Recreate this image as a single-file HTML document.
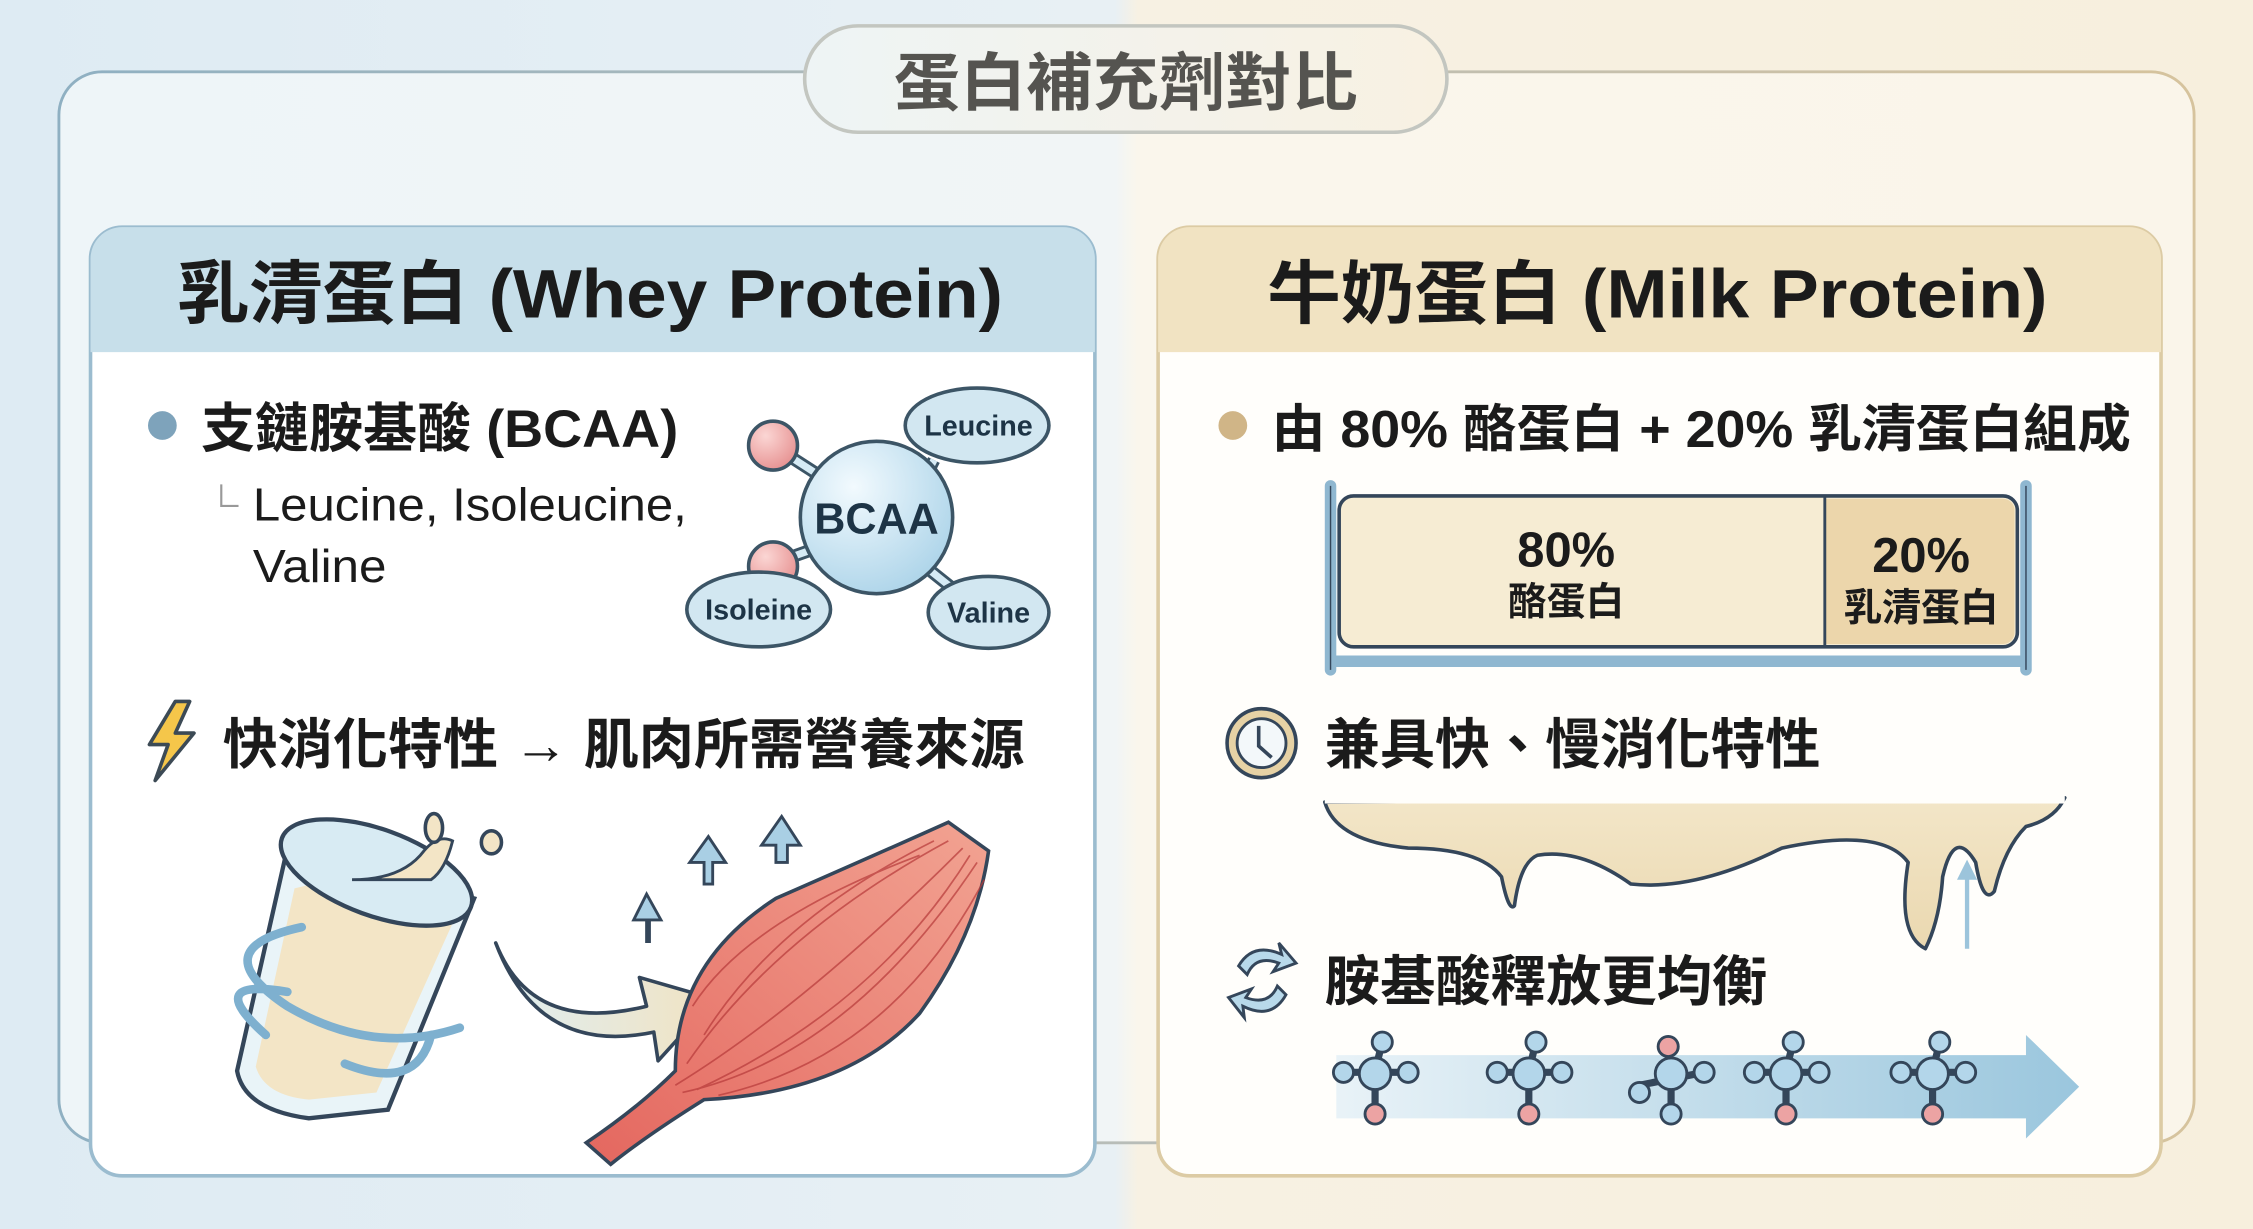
<!DOCTYPE html>
<html><head><meta charset="utf-8"><style>
html,body{margin:0;padding:0;width:2253px;height:1229px;overflow:hidden;background:#eef3f5}
svg{display:block}
text{font-family:"Liberation Sans","Noto Sans CJK TC",sans-serif}
</style></head><body>
<svg width="2253" height="1229" viewBox="0 0 1568 855" preserveAspectRatio="none" xmlns="http://www.w3.org/2000/svg">
<defs>
<linearGradient id="bg" x1="0" x2="1" y1="0" y2="0">
<stop offset="0" stop-color="#deebf3"/><stop offset="0.495" stop-color="#e8f0f4"/><stop offset="0.505" stop-color="#f7f1e3"/><stop offset="1" stop-color="#f7efdd"/></linearGradient>
<linearGradient id="frame" x1="0" x2="1"><stop offset="0" stop-color="#eef5f8"/><stop offset="0.495" stop-color="#f1f5f6"/><stop offset="0.505" stop-color="#faf6ec"/><stop offset="1" stop-color="#faf5ea"/></linearGradient>
<linearGradient id="framestroke" x1="0" x2="1"><stop offset="0" stop-color="#8fb0c2"/><stop offset="0.5" stop-color="#b8bdb8"/><stop offset="1" stop-color="#d6c39d"/></linearGradient>
<linearGradient id="pill" x1="0" x2="1"><stop offset="0" stop-color="#eef4f5"/><stop offset="1" stop-color="#f8f1e2"/></linearGradient>
<linearGradient id="arr" x1="0" x2="1"><stop offset="0" stop-color="#e6f1f7"/><stop offset="1" stop-color="#8fc0da"/></linearGradient>
<linearGradient id="milk" x1="0" x2="0" y1="0" y2="1"><stop offset="0" stop-color="#f3e6c8"/><stop offset="1" stop-color="#ead8b0"/></linearGradient>
<radialGradient id="ball" cx="0.35" cy="0.3" r="0.8"><stop offset="0" stop-color="#f2fafe"/><stop offset="1" stop-color="#a9d2e8"/></radialGradient>
<radialGradient id="pink" cx="0.35" cy="0.3" r="0.8"><stop offset="0" stop-color="#fbd6d4"/><stop offset="1" stop-color="#e58c8c"/></radialGradient>
<linearGradient id="bigarr" x1="0" x2="1"><stop offset="0" stop-color="#dfeef2"/><stop offset="1" stop-color="#f1e3c2"/></linearGradient>
<linearGradient id="muscle" x1="0" x2="1" y1="1" y2="0"><stop offset="0" stop-color="#e4675f"/><stop offset="1" stop-color="#f2a392"/></linearGradient>
</defs>
<rect width="1568" height="855" fill="url(#bg)"/>
<rect x="41" y="50" width="1486" height="745" rx="30" fill="url(#frame)" stroke="url(#framestroke)" stroke-width="2"/>
<!-- title pill -->
<rect x="560" y="18" width="447" height="74" rx="37" fill="url(#pill)" stroke="#c3c6c0" stroke-width="2.5"/>
<text x="622" y="73" font-size="44" font-weight="bold" fill="#555450" textLength="323" lengthAdjust="spacingAndGlyphs">蛋白補充劑對比</text>

<!-- left card -->
<rect x="63" y="158" width="699" height="660" rx="22" fill="#ffffff" stroke="#9bbccf" stroke-width="2.5"/>
<path d="M63 245 V180 a22 22 0 0 1 22 -22 H740 a22 22 0 0 1 22 22 V245 Z" fill="#c7dfea"/>
<text x="123" y="221" font-size="48" font-weight="bold" fill="#1b1b1b" textLength="575" lengthAdjust="spacingAndGlyphs">乳清蛋白 (Whey Protein)</text>
<circle cx="113" cy="296" r="10" fill="#7ea3bb"/>
<text x="140" y="311" font-size="37" font-weight="bold" fill="#1b1b1b" textLength="332" lengthAdjust="spacingAndGlyphs">支鏈胺基酸 (BCAA)</text>
<path d="M154 337 V352 H166" fill="none" stroke="#999" stroke-width="1.5"/>
<text x="176" y="362" font-size="32" fill="#1b1b1b" textLength="302" lengthAdjust="spacingAndGlyphs">Leucine, Isoleucine,</text>
<text x="176" y="405" font-size="32" fill="#1b1b1b" textLength="93" lengthAdjust="spacingAndGlyphs">Valine</text>
<!-- BCAA molecule -->
<g stroke="#3c5566" stroke-width="2.5">
<line x1="538" y1="310" x2="600" y2="350" stroke-width="9" stroke="#3c5566"/><line x1="538" y1="310" x2="600" y2="350" stroke-width="5" stroke="#d6ebf5"/>
<line x1="538" y1="392" x2="600" y2="370" stroke-width="9"/><line x1="538" y1="392" x2="600" y2="370" stroke-width="5" stroke="#d6ebf5"/>
<line x1="650" y1="320" x2="640" y2="340" stroke-width="9"/><line x1="650" y1="320" x2="640" y2="340" stroke-width="5" stroke="#d6ebf5"/>
<line x1="645" y1="395" x2="670" y2="415" stroke-width="9"/><line x1="645" y1="395" x2="670" y2="415" stroke-width="5" stroke="#d6ebf5"/>
<circle cx="538" cy="310" r="17" fill="url(#pink)"/>
<circle cx="538" cy="394" r="17" fill="url(#pink)"/>
<circle cx="610" cy="360" r="53" fill="url(#ball)"/>
<ellipse cx="680" cy="296" rx="50" ry="26" fill="#d2e7f1"/>
<ellipse cx="528" cy="424" rx="50" ry="26" fill="#d2e7f1"/>
<ellipse cx="688" cy="426" rx="42" ry="25" fill="#d2e7f1"/>
</g>
<text x="610" y="371" font-size="30" font-weight="bold" fill="#1d3446" text-anchor="middle">BCAA</text>
<text x="681" y="303" font-size="20" font-weight="bold" fill="#1d3446" text-anchor="middle">Leucine</text>
<text x="528" y="431" font-size="20" font-weight="bold" fill="#1d3446" text-anchor="middle">Isoleine</text>
<text x="688" y="433" font-size="20" font-weight="bold" fill="#1d3446" text-anchor="middle">Valine</text>
<!-- lightning -->
<path d="M122 488 L104 518 H117 L108 543 L135 510 H122 L132 488 Z" fill="#f5c64a" stroke="#3c4a55" stroke-width="2.5" stroke-linejoin="round"/>
<text x="155" y="531" font-size="38" font-weight="bold" fill="#1b1b1b" textLength="558" lengthAdjust="spacingAndGlyphs">快消化特性 → 肌肉所需營養來源</text>
<!-- glass -->
<path d="M200 590 L165 745 Q170 772 215 778 L270 772 L330 625 Z" fill="#e9f4f8" stroke="#34465a" stroke-width="3"/>
<path d="M205 618 L178 742 Q184 762 215 765 L262 760 L316 640 Q280 628 230 612 Z" fill="#f3e5c6"/>
<ellipse cx="262" cy="607" rx="70" ry="30" transform="rotate(20 262 607)" fill="#d8ebf3" stroke="#34465a" stroke-width="3"/>
<path d="M245 612 Q280 612 295 592 Q305 580 315 585 Q310 605 300 612 Z" fill="#f3e5c6" stroke="#34465a" stroke-width="2"/>
<ellipse cx="302" cy="576" rx="6" ry="10" fill="#f3e5c6" stroke="#34465a" stroke-width="2.5"/>
<ellipse cx="342" cy="586" rx="7" ry="8" fill="#f3e5c6" stroke="#34465a" stroke-width="2.5"/>
<path d="M210 645 Q140 660 200 700 Q260 735 320 715 M185 720 Q140 680 200 690 M240 740 Q290 760 300 720" fill="none" stroke="#7eb0cf" stroke-width="6" stroke-linecap="round"/>
<!-- curved arrow -->
<path d="M345 656 Q370 720 450 700 L445 680 L497 695 L458 738 L455 718 Q375 735 345 656 Z" fill="url(#bigarr)" stroke="#34465a" stroke-width="2.5" stroke-linejoin="round"/>
<!-- muscle -->
<path d="M408 795 Q445 770 470 745 Q470 670 540 625 Q620 590 660 572 L688 592 Q680 650 640 705 Q590 760 490 765 Q450 790 425 810 Z" fill="url(#muscle)" stroke="#34465a" stroke-width="2.5"/>
<g stroke="#b73a3a" stroke-width="1.2" fill="none" opacity="0.7">
<path d="M470 755 Q560 700 670 590"/><path d="M478 740 Q540 650 660 585"/><path d="M490 720 Q540 640 650 585"/><path d="M475 760 Q590 735 680 600"/><path d="M500 762 Q620 735 685 612"/><path d="M482 700 Q520 640 640 595"/><path d="M485 758 Q610 700 675 595"/>
</g>
<!-- up arrows -->
<g fill="#a9cfe4" stroke="#34465a" stroke-width="2">
<path d="M450 655 V640 H441 L450 622 L460 640 H452 V655 Z"/>
<path d="M490 615 V600 H480 L493 582 L505 600 H496 V615 Z"/>
<path d="M540 600 V588 H530 L544 568 L557 588 H548 V600 Z"/>
</g>

<!-- right card -->
<rect x="806" y="158" width="698" height="660" rx="22" fill="#fffefb" stroke="#dccba4" stroke-width="2.5"/>
<path d="M806 245 V180 a22 22 0 0 1 22 -22 H1482 a22 22 0 0 1 22 22 V245 Z" fill="#f1e3c2"/>
<text x="882" y="221" font-size="48" font-weight="bold" fill="#1b1b1b" textLength="543" lengthAdjust="spacingAndGlyphs">牛奶蛋白 (Milk Protein)</text>
<circle cx="858" cy="296" r="10" fill="#d0b587"/>
<text x="885" y="311" font-size="36" font-weight="bold" fill="#1b1b1b" textLength="598" lengthAdjust="spacingAndGlyphs">由 80% 酪蛋白 + 20% 乳清蛋白組成</text>
<path d="M926 338 V466 M1410 338 V466 M926 460 H1410" fill="none" stroke="#8fb7d0" stroke-width="8" stroke-linecap="round"/>
<path d="M926 338 V466 M1410 338 V466" fill="none" stroke="#34465a" stroke-width="1"/>
<rect x="932" y="345" width="472" height="105" rx="10" fill="#f6ecd3" stroke="#34465a" stroke-width="2.5"/>
<path d="M1270 347 H1394 a8 8 0 0 1 8 8 V440 a8 8 0 0 1 -8 8 H1270 Z" fill="#ecd6ab"/>
<line x1="1270" y1="346" x2="1270" y2="449" stroke="#34465a" stroke-width="2"/>
<text x="1090" y="394" font-size="34" font-weight="bold" fill="#1b1b1b" text-anchor="middle">80%</text>
<text x="1090" y="428" font-size="27" font-weight="bold" fill="#1b1b1b" text-anchor="middle">酪蛋白</text>
<text x="1337" y="398" font-size="34" font-weight="bold" fill="#1b1b1b" text-anchor="middle">20%</text>
<text x="1337" y="432" font-size="27" font-weight="bold" fill="#1b1b1b" text-anchor="middle">乳清蛋白</text>
<!-- clock -->
<circle cx="878" cy="517" r="24" fill="#e6d2a5" stroke="#34465a" stroke-width="2.5"/>
<circle cx="878" cy="517" r="17" fill="#f3f8fa" stroke="#34465a" stroke-width="2"/>
<path d="M876 505 V519 L885 527" fill="none" stroke="#34465a" stroke-width="2.5"/>
<text x="922" y="531" font-size="38" font-weight="bold" fill="#1b1b1b" textLength="345" lengthAdjust="spacingAndGlyphs">兼具快、慢消化特性</text>
<!-- drip -->
<path d="M922 558 Q930 585 980 590 Q1030 590 1045 610 Q1050 635 1054 630 Q1058 600 1070 595 Q1100 590 1135 615 Q1180 620 1240 590 Q1310 575 1328 600 Q1320 650 1340 660 Q1350 640 1352 610 Q1360 575 1375 600 Q1380 630 1388 620 Q1395 590 1410 575 Q1430 570 1437 555 Z" fill="url(#milk)" stroke="#34465a" stroke-width="2.5" stroke-linejoin="round"/>
<rect x="922" y="553" width="515" height="6" fill="#fffefb"/>
<line x1="1369" y1="660" x2="1369" y2="610" stroke="#9cc4db" stroke-width="3"/>
<path d="M1362 612 L1369 598 L1376 612 Z" fill="#9cc4db"/>
<!-- refresh -->
<path d="M862 672 Q872 655 892 664 L890 656 L902 670 L886 676 L890 670 Q874 664 868 678 Z" fill="#b8d9ea" stroke="#34465a" stroke-width="2"/>
<path d="M895 692 Q885 710 865 700 L866 708 L855 694 L871 688 L867 694 Q883 700 889 686 Z" fill="#b8d9ea" stroke="#34465a" stroke-width="2"/>
<text x="922" y="696" font-size="38" font-weight="bold" fill="#1b1b1b" textLength="308" lengthAdjust="spacingAndGlyphs">胺基酸釋放更均衡</text>
<!-- amino arrow -->
<path d="M930 734 H1410 V720 L1447 756 L1410 792 V778 H930 Z" fill="url(#arr)" opacity="0.9"/>
<g stroke="#34465a" stroke-width="2">
<g id="m1">
<line x1="957" y1="745" x2="957" y2="780" stroke-width="5"/><line x1="935" y1="746" x2="980" y2="746" stroke-width="5"/><line x1="957" y1="745" x2="962" y2="725" stroke-width="5"/>
<circle cx="962" cy="725" r="7" fill="#b3d6ea"/><circle cx="935" cy="746" r="7" fill="#b3d6ea"/><circle cx="980" cy="746" r="7" fill="#b3d6ea"/><circle cx="957" cy="775" r="7" fill="#eca3a3"/><circle cx="957" cy="747" r="11" fill="#b3d6ea"/>
</g>
<use href="#m1" transform="translate(107 0)"/>
<use href="#m1" transform="translate(286 0)"/>
<use href="#m1" transform="translate(388 0)"/>
<g transform="translate(206 0)">
<line x1="957" y1="745" x2="957" y2="780" stroke-width="5"/><line x1="935" y1="755" x2="980" y2="746" stroke-width="5"/><line x1="957" y1="745" x2="955" y2="728" stroke-width="5"/>
<circle cx="955" cy="728" r="7" fill="#eca3a3"/><circle cx="935" cy="760" r="7" fill="#b3d6ea"/><circle cx="980" cy="746" r="7" fill="#b3d6ea"/><circle cx="957" cy="775" r="7" fill="#b3d6ea"/><circle cx="957" cy="747" r="11" fill="#b3d6ea"/>
</g>
</g>
</svg>
</body></html>
